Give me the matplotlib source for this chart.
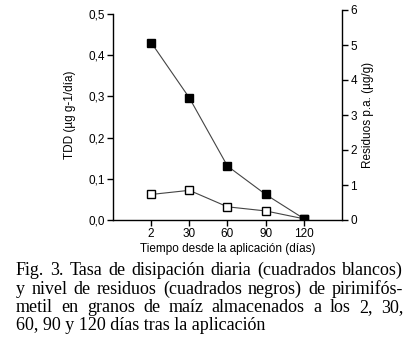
import matplotlib
matplotlib.use("Agg")
import matplotlib.pyplot as plt
from matplotlib.ticker import FuncFormatter

# ---- DATOS ----
dias = ["2", "30", "60", "90", "120"]
tdd = [0.062, 0.072, 0.032, 0.022, 0.003]        # cuadrados blancos (eje izq.)
residuos = [5.07, 3.49, 1.54, 0.73, 0.04]         # cuadrados negros (eje der.)
ticks_izq = [0.0, 0.1, 0.2, 0.3, 0.4, 0.5]
ticks_der = [0, 1, 2, 3, 4, 5, 6]

caption = [
    "Fig. 3. Tasa de disipación diaria (cuadrados blancos)",
    "y nivel de residuos (cuadrados negros) de pirimifós-",
    "metil en granos de maíz almacenados a los  2, 30,",
    "60, 90 y 120 días tras la aplicación",
]

W, H = 414, 362
fig = plt.figure(figsize=(W / 100, H / 100), dpi=100)
fig.patch.set_facecolor("white")

sans = "Liberation Sans"
serif = "Liberation Serif"
fs_eje = 8.5

# ---- EJES ----
ax = fig.add_axes([113 / W, 1 - 220 / H, (342 - 113) / W, 210 / H])
ax2 = ax.twinx()
x = list(range(len(dias)))

ax.plot(x, tdd, color="#444444", lw=0.8, marker="s", ms=5.5,
        mfc="white", mec="black", mew=1.0, zorder=3)
ax2.plot(x, residuos, color="#444444", lw=0.8, marker="s", ms=5.5,
         mfc="black", mec="black", zorder=3)

ax.set_xlim(-1, 5)
ax.set_ylim(0, 0.5 * 210 / 206)
ax2.set_ylim(0, 6)

ax.set_xticks(x)
ax.set_xticklabels(dias)
ax.set_yticks(ticks_izq)
ax.yaxis.set_major_formatter(FuncFormatter(lambda v, p: f"{v:.1f}".replace(".", ",")))
ax2.set_yticks(ticks_der)

for a in (ax, ax2):
    a.tick_params(direction="out", length=4, width=1, labelsize=fs_eje, pad=2)
    for lbl in a.get_yticklabels() + a.get_xticklabels():
        lbl.set_fontfamily(sans)
    a.spines["top"].set_visible(False)
ax.spines["left"].set_bounds(0, 0.5)
ax.spines["right"].set_visible(False)
ax2.spines["left"].set_visible(False)
ax2.spines["bottom"].set_visible(False)
for s in ("left", "bottom"):
    ax.spines[s].set_linewidth(1)
ax2.spines["right"].set_linewidth(1)

fig.text(70 / W, 1 - 115 / H, "TDD (µg g-1/día)", rotation=90, ha="center",
         va="center", fontfamily=sans, fontsize=fs_eje)
fig.text(368 / W, 1 - 115 / H, "Residuos p.a. (µg/g)", rotation=90, ha="center",
         va="center", fontfamily=sans, fontsize=fs_eje)
fig.text(227.5 / W, 1 - 249 / H, "Tiempo desde la aplicación (días)", ha="center",
         va="center", fontfamily=sans, fontsize=fs_eje)

# ---- LEYENDA (texto justificado) ----
x0, x1 = 16, 403
bases = [275, 293.5, 312, 330.5]
fs = 13
renderer = fig.canvas.get_renderer()
for i, linea in enumerate(caption):
    y = 1 - bases[i] / H
    if i == len(caption) - 1:
        fig.text(x0 / W, y, linea, fontfamily=serif, fontsize=fs, va="baseline")
        continue
    palabras = linea.split()
    textos = [fig.text(0, y, w, fontfamily=serif, fontsize=fs, va="baseline") for w in palabras]
    anchos = [t.get_window_extent(renderer).width for t in textos]
    hueco = (x1 - x0 - sum(anchos)) / (len(palabras) - 1)
    pos = x0
    for t, w in zip(textos, anchos):
        t.set_x(pos / W)
        pos += w + hueco

fig.savefig("out.png", dpi=100)
